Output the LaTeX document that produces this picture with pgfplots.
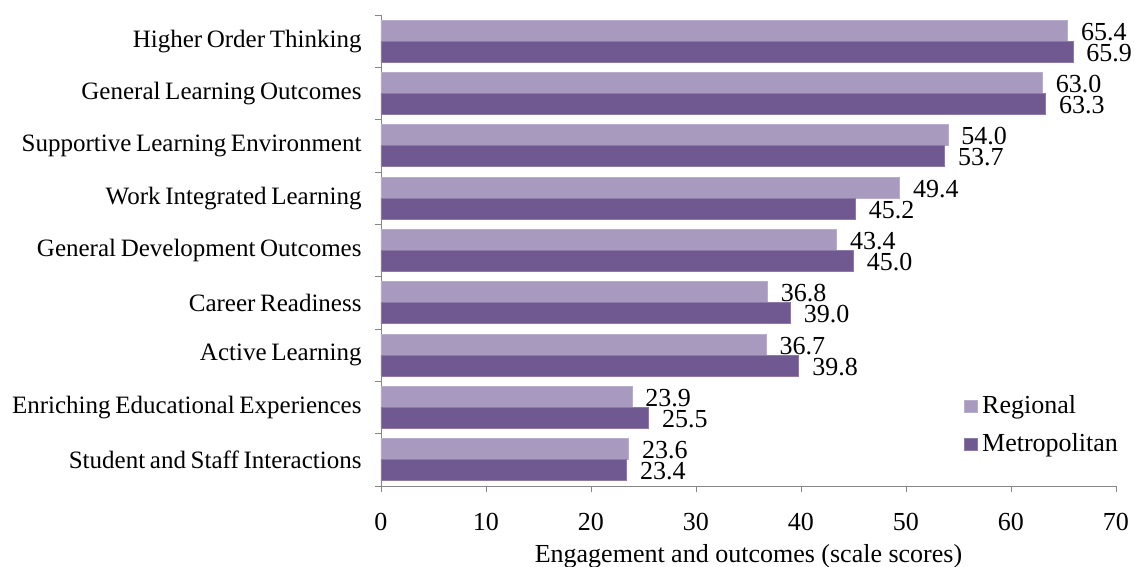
\documentclass[border=0pt]{standalone}
\usepackage{pgfplots}
\pgfplotsset{compat=1.18}
\usepackage{fontspec}
\setmainfont{Liberation Serif}[WordSpace=0.75]
\newfontfamily\xlfont{Liberation Serif}
\definecolor{regc}{HTML}{A899BF}
\definecolor{metc}{HTML}{705990}
\definecolor{axc}{HTML}{868686}
\begin{document}
\fontsize{13pt}{15pt}\selectfont
\begin{tikzpicture}
\begin{axis}[
  scale only axis,
  width=367.5pt, height=235.5pt,
  xmin=0, xmax=70,
  ymin=-0.5, ymax=8.5,
  y dir=reverse,
  xbar, bar width=10.5pt,
  axis lines=left,
  axis line style={-, draw=axc},
  xtick={0,10,...,70},
  ytick={0,...,8},
  yticklabels={Higher Order Thinking,General Learning Outcomes,Supportive Learning Environment,Work Integrated Learning,General Development Outcomes,Career Readiness,Active Learning,Enriching Educational Experiences,Student and Staff Interactions},
  ytick style={draw=none},
  xtick style={draw=axc},
  major tick length=3.2pt,
  tick align=outside,
  extra y ticks={-0.5,0.5,...,8.5},
  extra y tick labels={},
  extra y tick style={ytick style={draw=axc}},
  xticklabel style={yshift=-6pt, font=\fontsize{13pt}{15pt}\selectfont},
  yticklabel style={xshift=-2pt, font=\fontsize{12.5pt}{15pt}\selectfont},
  /pgf/number format/assume math mode=true,
  xlabel={Engagement and outcomes (scale scores)},
  xlabel style={yshift=2pt, font=\xlfont\fontsize{13pt}{15pt}\selectfont},
  nodes near coords,
  nodes near coords align={horizontal},
  every node near coord/.append style={anchor=west, inner sep=0pt, xshift=6.5pt, yshift=-0.5pt,
    text height=8.6pt, text depth=0pt, font=\fontsize{13pt}{15pt}\selectfont,
    /pgf/number format/.cd, fixed, precision=1, zerofill, assume math mode=true},
  legend style={draw=none, fill=none, at={(0.785,0.21)}, anchor=north west,
    legend cell align=left, row sep=4pt, font=\fontsize{13pt}{15pt}\selectfont},
  legend image code/.code={\fill[#1] (0pt,-3.2pt) rectangle (6.5pt,3.2pt);},
]
\addplot[fill=regc, draw=regc!80!white, line width=0.4pt, bar shift=5.25pt] coordinates {
(65.4,0) (63.0,1) (54.0,2) (49.4,3) (43.4,4) (36.8,5) (36.7,6) (23.9,7) (23.6,8)};
\addlegendentry{Regional}
\addplot[fill=metc, draw=metc!80!white, line width=0.4pt, bar shift=-5.25pt] coordinates {
(65.9,0) (63.3,1) (53.7,2) (45.2,3) (45.0,4) (39.0,5) (39.8,6) (25.5,7) (23.4,8)};
\addlegendentry{Metropolitan}
\end{axis}
\pgfresetboundingbox
\path[use as bounding box] (-190.5pt,-40.5pt) rectangle (377pt,243pt);
\end{tikzpicture}
\end{document}
